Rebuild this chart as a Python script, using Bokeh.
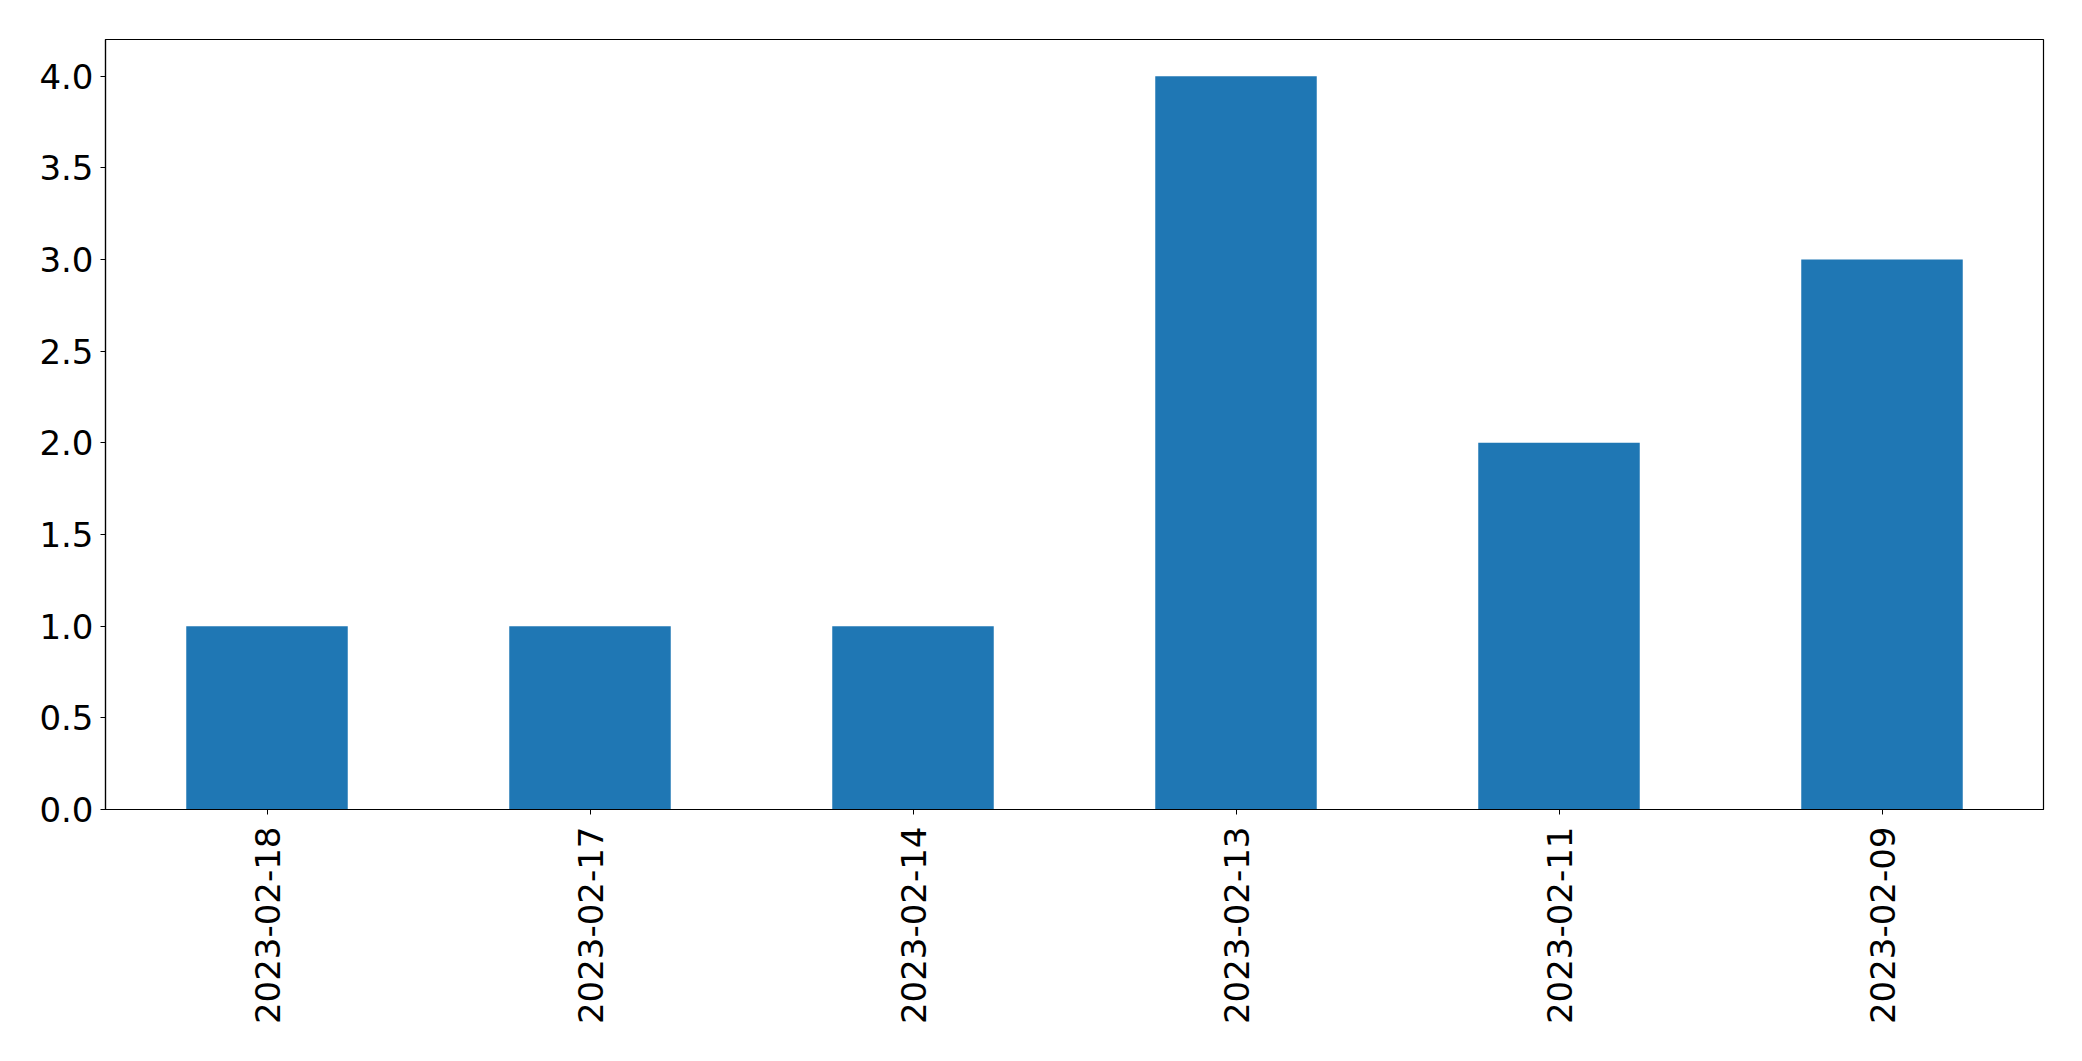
import math
from bokeh.plotting import figure
from bokeh.models import FactorRange, Range1d, FixedTicker, NumeralTickFormatter, ColumnDataSource
from bokeh.embed import file_html
from bokeh.resources import INLINE

dates = ["2023-02-18", "2023-02-17", "2023-02-14", "2023-02-13", "2023-02-11", "2023-02-09"]
counts = [1, 1, 1, 4, 2, 3]
y_ticks = [0.0, 0.5, 1.0, 1.5, 2.0, 2.5, 3.0, 3.5, 4.0]

src = ColumnDataSource(dict(date=dates, count=counts))

p = figure(x_range=FactorRange(*dates, range_padding=0), y_range=Range1d(0, 4.2),
           frame_width=1938, frame_height=770,
           min_border_left=105, min_border_top=39, min_border_right=30, min_border_bottom=240,
           output_backend="svg", toolbar_location=None, background_fill_color="white",
           border_fill_color="white")
p.x_range.factor_padding = 0
p.x_range.range_padding = 0

p.vbar(x="date", top="count", width=0.5, source=src, fill_color="#1f77b4", line_color=None)

p.outline_line_color = "black"
p.outline_line_width = 1.2
p.xgrid.visible = False
p.ygrid.visible = False

for ax in (p.xaxis, p.yaxis):
    ax.axis_line_color = "black"
    ax.axis_line_width = 1.2
    ax.major_tick_line_color = "black"
    ax.major_tick_out = 5
    ax.major_tick_in = 0
    ax.minor_tick_line_color = None
    ax.major_label_text_font = "DejaVu Sans"
    ax.major_label_text_font_size = "34px"
    ax.major_label_text_color = "black"

p.yaxis.ticker = FixedTicker(ticks=y_ticks)
p.yaxis.formatter = NumeralTickFormatter(format="0.0")
p.yaxis.major_label_standoff = 7
p.xaxis.major_label_orientation = math.pi / 2
p.xaxis.major_label_standoff = 12

open("out.html", "w").write(file_html(p, INLINE))
